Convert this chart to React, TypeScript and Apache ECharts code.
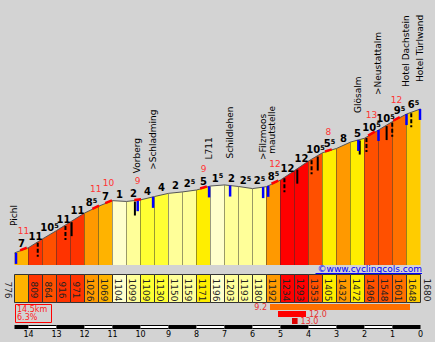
import React, { useEffect, useRef } from 'react';
import * as echarts from 'echarts';

// ---------------- data ----------------
const startKm = 14.5;
const segmentKm = 0.5;
const elevations = [776, 809, 864, 916, 971, 1026, 1069, 1104, 1099, 1109, 1130, 1150, 1159, 1171, 1196, 1203, 1193, 1180, 1192, 1234, 1293, 1353, 1405, 1432, 1472, 1496, 1548, 1601, 1648, 1680];
const gradients = [7, 11, 10.5, 11, 11, 8.5, 7, 1, 2, 4, 4, 2, 2.5, 5, 1.5, 2, 2.5, 2.5, 8.5, 12, 12, 10.5, 5.5, 8, 5, 10.5, 10.5, 9.5, 6.5];
const kmTicks = [14, 13, 12, 11, 10, 9, 8, 7, 6, 5, 4, 3, 2, 1, 0];
const poiNames = ['Pichl', 'Vorberg', '>Schladming', 'L711', 'Schildlehen', '>Filzmoos', 'mautstelle', 'Glösalm', '>Neustattalm', 'Hotel Dachstein', 'Hotel Türlwand'];
const poiKm = [14.5, 10.1, 9.55, 7.55, 6.8, 5.62, 5.44, 2.22, 1.5, 0.5, 0];
const steepKm = [14.18, 11.6, 11.14, 10.1, 7.75, 5.2, 3.29, 1.75, 0.86];
const steepGrades = [11, 11, 10, 9, 9, 12, 8, 13, 12];
const markKm = [13.67, 12.68, 12.46, 10.2, 4.86, 4.4, 3.89, 3.67, 2.17, 1.93, 1.21, 1.01, 0.33];
const markDashed = [true, true, false, false, true, false, true, false, false, true, false, true, true];
const bestAvg = [9.2, 12.0, 13.0];
const bestFromKm = [5.375, 5.09, 4.59];
const bestLengthKm = [5, 1, 0.2];
const climbLength = '14.5km';
const climbAverage = '6.3%';
const siteCredit = '©www.cyclingcols.com';

// ---------------- style ----------------
const BASE = 700;
const TOPV = 2000;
const FONT = '"DejaVu Sans", Verdana, sans-serif';
const poiLift = [0, 0, 0, 0, 0, 0, 5, 0, 8, 0, 0];
const poiDx = [0, 0, 0, 0, 0, 0, 4, 0, 0, 0, 0];
const TABLE_Y = 274.5;
const TABLE_H = 28;
const BEST_Y = 304;
const BAR_Y = 325;

function gradeColor(g: number): string {
  const a = Math.abs(g);
  if (a < 2) return '#ffffcc';
  if (a < 3) return '#ffff99';
  if (a < 4.5) return '#ffff33';
  if (a < 6) return '#ffee00';
  if (a < 7) return '#ffcc00';
  if (a < 8) return '#ffb300';
  if (a < 9) return '#ff9900';
  if (a < 10) return '#ff7000';
  if (a < 11) return '#ff5000';
  if (a < 12) return '#ff3300';
  if (a < 13) return '#ff0000';
  return '#dd0000';
}

function elevAt(r: number): number {
  const pos = (startKm - r) / segmentKm;
  let k = Math.floor(pos);
  if (k < 0) k = 0;
  if (k > elevations.length - 2) k = elevations.length - 2;
  const t = pos - k;
  return elevations[k] + t * (elevations[k + 1] - elevations[k]);
}

const segData = gradients.map((g, i) => [startKm - i * segmentKm, startKm - (i + 1) * segmentKm, elevations[i], elevations[i + 1], g, i]);

function cellText(x: number, val: number) {
  return {
    type: 'text', x, y: TABLE_Y + TABLE_H / 2 + 1.5, rotation: -Math.PI / 2,
    style: { text: String(val), textAlign: 'center', textVerticalAlign: 'middle', fill: '#222', font: `9px ${FONT}` },
  };
}

function renderSegment(params: any, api: any) {
  const r0 = api.value(0), r1 = api.value(1), e0 = api.value(2), e1 = api.value(3), g = api.value(4), i = api.value(5);
  const p0 = api.coord([r0, e0]);
  const p1 = api.coord([r1, e1]);
  const yb = api.coord([r0, BASE])[1];
  const col = gradeColor(g);
  const n = gradients.length;
  const children: any[] = [
    { type: 'polygon', shape: { points: [p0, p1, [p1[0], yb], [p0[0], yb]] }, style: { fill: col } },
  ];
  if (i < n - 1) {
    children.push({ type: 'line', shape: { x1: p1[0], y1: p1[1], x2: p1[0], y2: yb }, style: { stroke: '#333', lineWidth: 1 } });
  }
  children.push({ type: 'line', shape: { x1: p0[0], y1: p0[1], x2: p1[0], y2: p1[1] }, style: { stroke: '#555', lineWidth: 1 } });
  const mid = api.coord([(r0 + r1) / 2, (e0 + e1) / 2]);
  const whole = Math.floor(g);
  const frac = Math.round((g - whole) * 10);
  const txt = frac ? `{m|${whole}}{s|${frac}}` : `{m|${whole}}`;
  children.push({
    type: 'text', x: mid[0], y: mid[1] - 1.5,
    style: {
      text: txt, textAlign: 'center', textVerticalAlign: 'bottom', fill: '#000', font: `bold 10px ${FONT}`,
      rich: {
        m: { font: `bold 10px ${FONT}`, fill: '#000', lineHeight: 11 },
        s: { font: `bold 6.5px ${FONT}`, fill: '#000', lineHeight: 7, verticalAlign: 'top' },
      },
    },
  });
  children.push({
    type: 'rect', shape: { x: p0[0], y: TABLE_Y, width: p1[0] - p0[0], height: TABLE_H },
    style: { fill: col, stroke: '#333', lineWidth: 1 },
  });
  if (i > 0) children.push(cellText((p0[0] + p1[0]) / 2 - 1.5, elevations[i]));
  else children.push(cellText(p0[0] - 7, elevations[0]));
  if (i === n - 1) children.push(cellText(p1[0] + 6, elevations[n]));
  return { type: 'group', children };
}

function renderPoi(params: any, api: any) {
  const r = api.value(0), e = api.value(1), i = api.value(2);
  const p = api.coord([r, e]);
  const left = api.coord([startKm, BASE])[0];
  const right = api.coord([0, BASE])[0];
  const bx = Math.min(Math.max(p[0], left + 1.5), right - 0.5);
  return {
    type: 'group',
    children: [
      { type: 'line', shape: { x1: bx, y1: p[1], x2: bx, y2: p[1] + 11 }, style: { stroke: '#0000ff', lineWidth: 2.5 } },
      {
        type: 'text', x: p[0] - 0.5 + poiDx[i], y: p[1] - 27 - poiLift[i], rotation: Math.PI / 2,
        style: { text: poiNames[i], textAlign: 'left', textVerticalAlign: 'middle', fill: '#000', font: `9px ${FONT}` },
      },
    ],
  };
}

function renderSteep(params: any, api: any) {
  const r = api.value(0), e = api.value(1), g = api.value(2);
  const p = api.coord([r, e]);
  const a = api.coord([r + 0.12, elevAt(r + 0.12)]);
  const b = api.coord([r - 0.12, elevAt(r - 0.12)]);
  return {
    type: 'group',
    children: [
      { type: 'line', shape: { x1: a[0], y1: a[1] - 0.5, x2: b[0], y2: b[1] - 0.5 }, style: { stroke: '#ff0000', lineWidth: 2.5 } },
      { type: 'text', x: p[0], y: p[1] - 19, style: { text: String(g), textAlign: 'center', textVerticalAlign: 'middle', fill: '#ff3333', font: `9px ${FONT}` } },
    ],
  };
}

function renderMark(params: any, api: any) {
  const r = api.value(0), e = api.value(1), d = api.value(2);
  const p = api.coord([r, e]);
  return {
    type: 'line', shape: { x1: p[0], y1: p[1] + 1, x2: p[0], y2: p[1] + 15 },
    style: { stroke: '#000', lineWidth: 2, lineDash: d ? [4, 2] : null },
  };
}

function renderBest(params: any, api: any) {
  const from = api.value(0), to = api.value(1), avg = api.value(2), i = api.value(3);
  const p0 = api.coord([from, BASE]);
  const p1 = api.coord([to, BASE]);
  const y = BEST_Y + i * 7;
  return {
    type: 'group',
    children: [
      { type: 'rect', shape: { x: p0[0], y, width: p1[0] - p0[0], height: 6 }, style: { fill: gradeColor(avg) } },
      {
        type: 'text', x: i === 0 ? p0[0] - 3 : p1[0] + 3, y: y + 3,
        style: { text: avg.toFixed(1), textAlign: i === 0 ? 'right' : 'left', textVerticalAlign: 'middle', fill: '#e83030', font: `8px ${FONT}` },
      },
    ],
  };
}

const barData = [startKm, ...kmTicks].slice(0, -1).map((from, i) => {
  const to = kmTicks[i];
  return [from, to, Math.floor(to) % 2 === 0 ? 1 : 0];
});

function renderBar(params: any, api: any) {
  const from = api.value(0), to = api.value(1), black = api.value(2);
  const p0 = api.coord([from, BASE]);
  const p1 = api.coord([to, BASE]);
  const children: any[] = [
    { type: 'rect', shape: { x: p0[0], y: BAR_Y, width: p1[0] - p0[0], height: 4 }, style: { fill: '#000' } },
  ];
  if (!black) children.push({ type: 'rect', shape: { x: p0[0], y: BAR_Y + 1, width: p1[0] - p0[0], height: 2 }, style: { fill: '#fff' } });
  return { type: 'group', children };
}

const option: any = {
  animation: false,
  backgroundColor: '#d3d3d3',
  grid: { left: 14.5, right: 14.5, top: 58, bottom: 77 },
  xAxis: {
    type: 'value', min: 0, max: startKm, inverse: true, interval: 1,
    axisLine: { show: false }, axisTick: { show: false }, splitLine: { show: false },
    axisLabel: {
      margin: 65, fontSize: 8, fontFamily: 'DejaVu Sans', color: '#000',
      formatter: (v: number) => (kmTicks.indexOf(v) >= 0 ? String(v) : ''),
    },
  },
  yAxis: { type: 'value', min: BASE, max: TOPV, show: false },
  series: [
    { type: 'custom', coordinateSystem: 'cartesian2d', clip: false, silent: true, renderItem: renderSegment, data: segData, z: 2 },
    { type: 'custom', coordinateSystem: 'cartesian2d', clip: false, silent: true, renderItem: renderMark, data: markKm.map((r, i) => [r, elevAt(r), markDashed[i] ? 1 : 0]), z: 3 },
    { type: 'custom', coordinateSystem: 'cartesian2d', clip: false, silent: true, renderItem: renderPoi, data: poiKm.map((r, i) => [r, elevAt(r), i]), z: 4 },
    { type: 'custom', coordinateSystem: 'cartesian2d', clip: false, silent: true, renderItem: renderSteep, data: steepKm.map((r, i) => [r, elevAt(r), steepGrades[i]]), z: 5 },
    { type: 'custom', coordinateSystem: 'cartesian2d', clip: false, silent: true, renderItem: renderBest, data: bestAvg.map((a, i) => [bestFromKm[i], bestFromKm[i] - bestLengthKm[i], a, i]), z: 3 },
    { type: 'custom', coordinateSystem: 'cartesian2d', clip: false, silent: true, renderItem: renderBar, data: barData, z: 3 },
  ],
  graphic: [
    { type: 'text', x: 422, y: 268.5, style: { text: siteCredit, textAlign: 'right', textVerticalAlign: 'middle', fill: '#0000ff', font: `9px ${FONT}` }, z: 10 },
    { type: 'line', shape: { x1: 315.5, y1: 273.5, x2: 422, y2: 273.5 }, style: { stroke: '#0000ff', lineWidth: 1 }, z: 10 },
    { type: 'rect', shape: { x: 15.5, y: 304.5, width: 36, height: 18 }, style: { fill: 'none', stroke: '#ff0000', lineWidth: 1 }, z: 10 },
    { type: 'text', x: 17, y: 309.5, style: { text: climbLength, textAlign: 'left', textVerticalAlign: 'middle', fill: '#ff2020', font: `8px ${FONT}` }, z: 10 },
    { type: 'text', x: 17, y: 317.5, style: { text: climbAverage, textAlign: 'left', textVerticalAlign: 'middle', fill: '#ff2020', font: `8px ${FONT}` }, z: 10 },
  ],
};

export default function App() {
  const ref = useRef<HTMLDivElement>(null);
  useEffect(() => {
    const chart = echarts.init(ref.current as HTMLDivElement, null, { renderer: 'svg' });
    chart.setOption(option);
    return () => chart.dispose();
  }, []);
  return <div ref={ref} style={{ position: 'fixed', left: 0, top: 0, width: 435, height: 342 }} />;
}
